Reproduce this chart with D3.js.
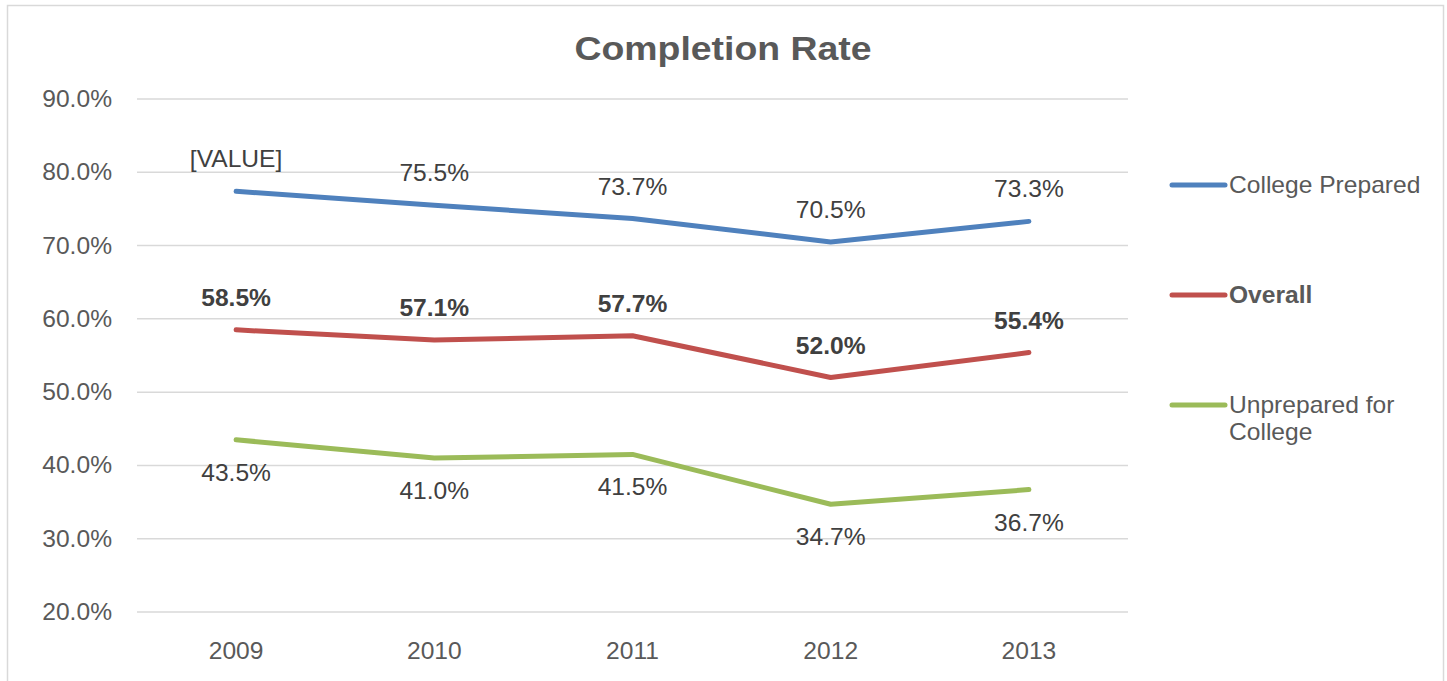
<!DOCTYPE html>
<html><head><meta charset="utf-8">
<script src="https://cdn.jsdelivr.net/npm/d3@7"></script>
<style>html,body{margin:0;padding:0;background:#fff;}svg{display:block;font-family:"Liberation Sans",Arial,sans-serif;}</style>
</head><body>
<svg id="c" width="1447" height="681"></svg>
<script>
const years = ["2009","2010","2011","2012","2013"];
const collegePrepared = [77.4, 75.5, 73.7, 70.5, 73.3];
const overall = [58.5, 57.1, 57.7, 52.0, 55.4];
const unprepared = [43.5, 41.0, 41.5, 34.7, 36.7];
const collegePreparedLabels = ["[VALUE]", "75.5%", "73.7%", "70.5%", "73.3%"];
const yTicks = [20, 30, 40, 50, 60, 70, 80, 90];
const seriesNames = ["College Prepared", "Overall", "Unprepared for College"];

const series = [
  {name: seriesNames[0], values: collegePrepared, labels: collegePreparedLabels, color: "#4F81BD", pos: "above", bold: false, legend: ["College Prepared"]},
  {name: seriesNames[1], values: overall, labels: overall.map(v => v.toFixed(1) + "%"), color: "#C0504D", pos: "above", bold: true, legend: ["Overall"]},
  {name: seriesNames[2], values: unprepared, labels: unprepared.map(v => v.toFixed(1) + "%"), color: "#9BBB59", pos: "below", bold: false, legend: ["Unprepared for", "College"]}
];

const svg = d3.select("#c");
const SX = 1.07;
function txt(g, x, y, s, opts) {
  const t = g.append("text")
    .attr("transform", `translate(${x},${y}) scale(${opts.sx || SX},1)`)
    .attr("text-anchor", opts.anchor || "middle")
    .attr("dy", "0.35em")
    .attr("font-size", opts.size || 23)
    .attr("font-weight", opts.bold ? "bold" : "normal")
    .attr("fill", opts.fill || "#595959")
    .text(s);
  return t;
}

// chart border
svg.append("path").attr("d", "M7.5,690 V5.5 H1443.5 V690").attr("fill", "none").attr("stroke", "#d9d9d9").attr("stroke-width", 1.5);

const x = d3.scalePoint().domain(years).range([137, 1128]).padding(0.5);
const y = d3.scaleLinear().domain([20, 90]).range([612, 99]);

// gridlines
svg.append("g").selectAll("line").data(yTicks).join("line")
  .attr("x1", 137).attr("x2", 1128)
  .attr("y1", d => y(d)).attr("y2", d => y(d))
  .attr("stroke", "#d9d9d9").attr("stroke-width", 1.5);

// y axis labels
const ya = svg.append("g");
yTicks.forEach(t => txt(ya, 112, y(t), t.toFixed(1) + "%", {anchor: "end"}));

// x axis labels
const xa = svg.append("g");
years.forEach(yr => txt(xa, x(yr), 651, yr, {}));

// title
txt(svg, 723, 48, "Completion Rate", {size: 34, bold: true, sx: 1.1});

// lines
const line = d3.line().x((d, i) => x(years[i])).y(d => y(d));
series.forEach(s => {
  svg.append("path").datum(s.values).attr("d", line)
    .attr("fill", "none").attr("stroke", s.color).attr("stroke-width", 5)
    .attr("stroke-linecap", "round").attr("stroke-linejoin", "round");
});

// data labels
series.forEach(s => {
  const g = svg.append("g");
  s.values.forEach((v, i) => {
    const off = s.pos === "above" ? -32 : 33;
    txt(g, x(years[i]), y(v) + off, s.labels[i], {fill: "#404040", bold: s.bold});
  });
});

// legend
const legY = [185, 295, 405];
series.forEach((s, i) => {
  const g = svg.append("g");
  g.append("line").attr("x1", 1172).attr("x2", 1225).attr("y1", legY[i]).attr("y2", legY[i])
    .attr("stroke", s.color).attr("stroke-width", 5).attr("stroke-linecap", "round");
  s.legend.forEach((ln, j) => txt(g, 1229, legY[i] + j * 27, ln, {anchor: "start", bold: s.bold, fill: s.bold ? "#595959" : "#595959"}));
});
</script>
</body></html>
